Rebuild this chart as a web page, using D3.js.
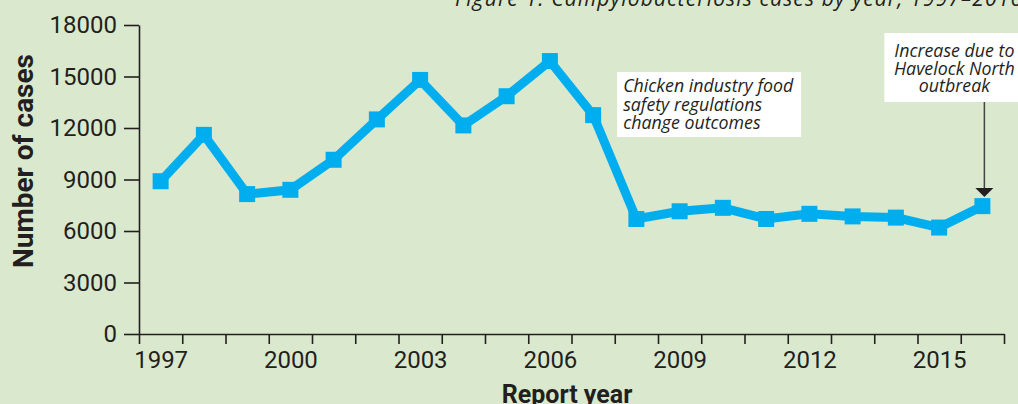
<!DOCTYPE html>
<html>
<head>
<meta charset="utf-8">
<script src="https://cdn.jsdelivr.net/npm/d3@7"></script>
<style>
  body { margin: 0; background: #dae9cd; }
  svg { display: block; }
</style>
</head>
<body>
<svg id="chart"></svg>
<script>
// data
const years = [1997, 1998, 1999, 2000, 2001, 2002, 2003, 2004, 2005, 2006,
               2007, 2008, 2009, 2010, 2011, 2012, 2013, 2014, 2015, 2016];
const cases = [8900, 11600, 8150, 8400, 10150, 12500, 14800, 12150, 13850, 15900,
               12750, 6700, 7150, 7350, 6700, 7000, 6850, 6780, 6200, 7450];
const yTicks = [0, 3000, 6000, 9000, 12000, 15000, 18000];
const xLabels = [1997, 2000, 2003, 2006, 2009, 2012, 2015];

const width = 1018, height = 404;
const ink = "#231f20";
const blue = "#00aeef";

const svg = d3.select("#chart")
    .attr("width", width)
    .attr("height", height)
    .style("background-color", "#dae9cd");

// each year is a slot between two ticks
const x = d3.scaleLinear().domain([years[0] - 0.5, years[years.length - 1] + 0.5]).range([139, 1004]);
const y = d3.scaleLinear().domain([0, 18000]).range([334, 25]);

// title, cut off at the top edge
svg.append("text")
    .attr("x", 455)
    .attr("y", 6)
    .attr("text-anchor", "start")
    .attr("textLength", 567)
    .style("font-family", "'Open Sans', Lato, sans-serif")
    .style("font-style", "italic")
    .style("font-size", "21px")
    .style("fill", ink)
    .text("Figure 1: Campylobacteriosis cases by year, 1997–2016");

// y axis
const yAxis = svg.append("g")
    .attr("transform", "translate(" + x.range()[0] + ",0)")
    .call(d3.axisLeft(y).tickValues(yTicks).tickSize(15).tickSizeOuter(0).tickPadding(7).tickFormat(d3.format("d")));

// x axis tick marks on slot edges
const edges = years.map(d => d - 0.5).concat([years[years.length - 1] + 0.5]);
const xAxis = svg.append("g")
    .attr("transform", "translate(0," + y(0) + ")")
    .call(d3.axisBottom(x).tickValues(edges).tickSize(10).tickSizeOuter(0).tickFormat(""));

// x axis labels in the middle of slots
const xLab = svg.append("g")
    .attr("transform", "translate(0," + y(0) + ")")
    .call(d3.axisBottom(x).tickValues(xLabels).tickSize(0).tickPadding(17).tickFormat(d3.format("d")));
xLab.select(".domain").remove();

[yAxis, xAxis, xLab].forEach(g => {
    g.selectAll("path, line").attr("stroke", ink).attr("stroke-width", 1.6);
    g.selectAll("text")
        .attr("fill", ink)
        .style("font-family", "Roboto, 'Liberation Sans', sans-serif")
        .style("font-size", "24px");
});

// axis titles
svg.append("text")
    .attr("transform", "translate(33,161) rotate(-90)")
    .attr("text-anchor", "middle")
    .style("font-family", "Roboto, 'Liberation Sans', sans-serif")
    .style("font-weight", "bold")
    .style("font-size", "28px")
    .style("fill", ink)
    .text("Number of cases");

svg.append("text")
    .attr("x", 567)
    .attr("y", 403)
    .attr("text-anchor", "middle")
    .style("font-family", "Roboto, 'Liberation Sans', sans-serif")
    .style("font-weight", "bold")
    .style("font-size", "25px")
    .style("fill", ink)
    .text("Report year");

// the line and its square markers
const data = years.map((yr, i) => ({year: yr, n: cases[i]}));

svg.append("path")
    .datum(data)
    .attr("d", d3.line().x(d => x(d.year)).y(d => y(d.n)))
    .attr("fill", "none")
    .attr("stroke", blue)
    .attr("stroke-width", 9)
    .attr("stroke-linejoin", "miter");

svg.selectAll("rect.marker")
    .data(data)
    .enter()
    .append("rect")
    .attr("class", "marker")
    .attr("x", d => x(d.year) - 8)
    .attr("y", d => y(d.n) - 8)
    .attr("width", 16)
    .attr("height", 16)
    .attr("fill", blue);

// annotations
const noteFont = "'Open Sans', Lato, sans-serif";

function note(left, top, w, h, lines, anchor, tx, firstBase, step) {
    svg.append("rect")
        .attr("x", left).attr("y", top)
        .attr("width", w).attr("height", h)
        .attr("fill", "white");
    let t = svg.append("text")
        .attr("text-anchor", anchor)
        .style("font-family", noteFont)
        .style("font-style", "italic")
        .style("font-size", "17.8px")
        .style("fill", ink);
    lines.forEach((l, i) => {
        t.append("tspan").attr("x", tx).attr("y", firstBase + i * step).text(l);
    });
}

// chicken regulations note, sits just right of the 2007 point
const cx = x(2007) + 24;
note(cx, 72, 184, 65,
     ["Chicken industry food", "safety regulations", "change outcomes"],
     "start", cx + 6, 92, 18.5);

// Havelock North note with arrow to the 2016 point
const hx = x(2016);
note(hx - 98, 33, 134, 69,
     ["Increase due to", "Havelock North", "outbreak"],
     "middle", hx - 28, 57, 17.5);

const tipY = y(cases[cases.length - 1]) - 9;
svg.append("line")
    .attr("x1", hx + 2).attr("x2", hx + 2)
    .attr("y1", 102).attr("y2", tipY - 6)
    .attr("stroke", "#444")
    .attr("stroke-width", 1.5);
svg.append("path")
    .attr("d", "M" + (hx - 7) + "," + (tipY - 9) + "L" + (hx + 11) + "," + (tipY - 9) + "L" + (hx + 2) + "," + tipY + "Z")
    .attr("fill", ink);
</script>
</body>
</html>
